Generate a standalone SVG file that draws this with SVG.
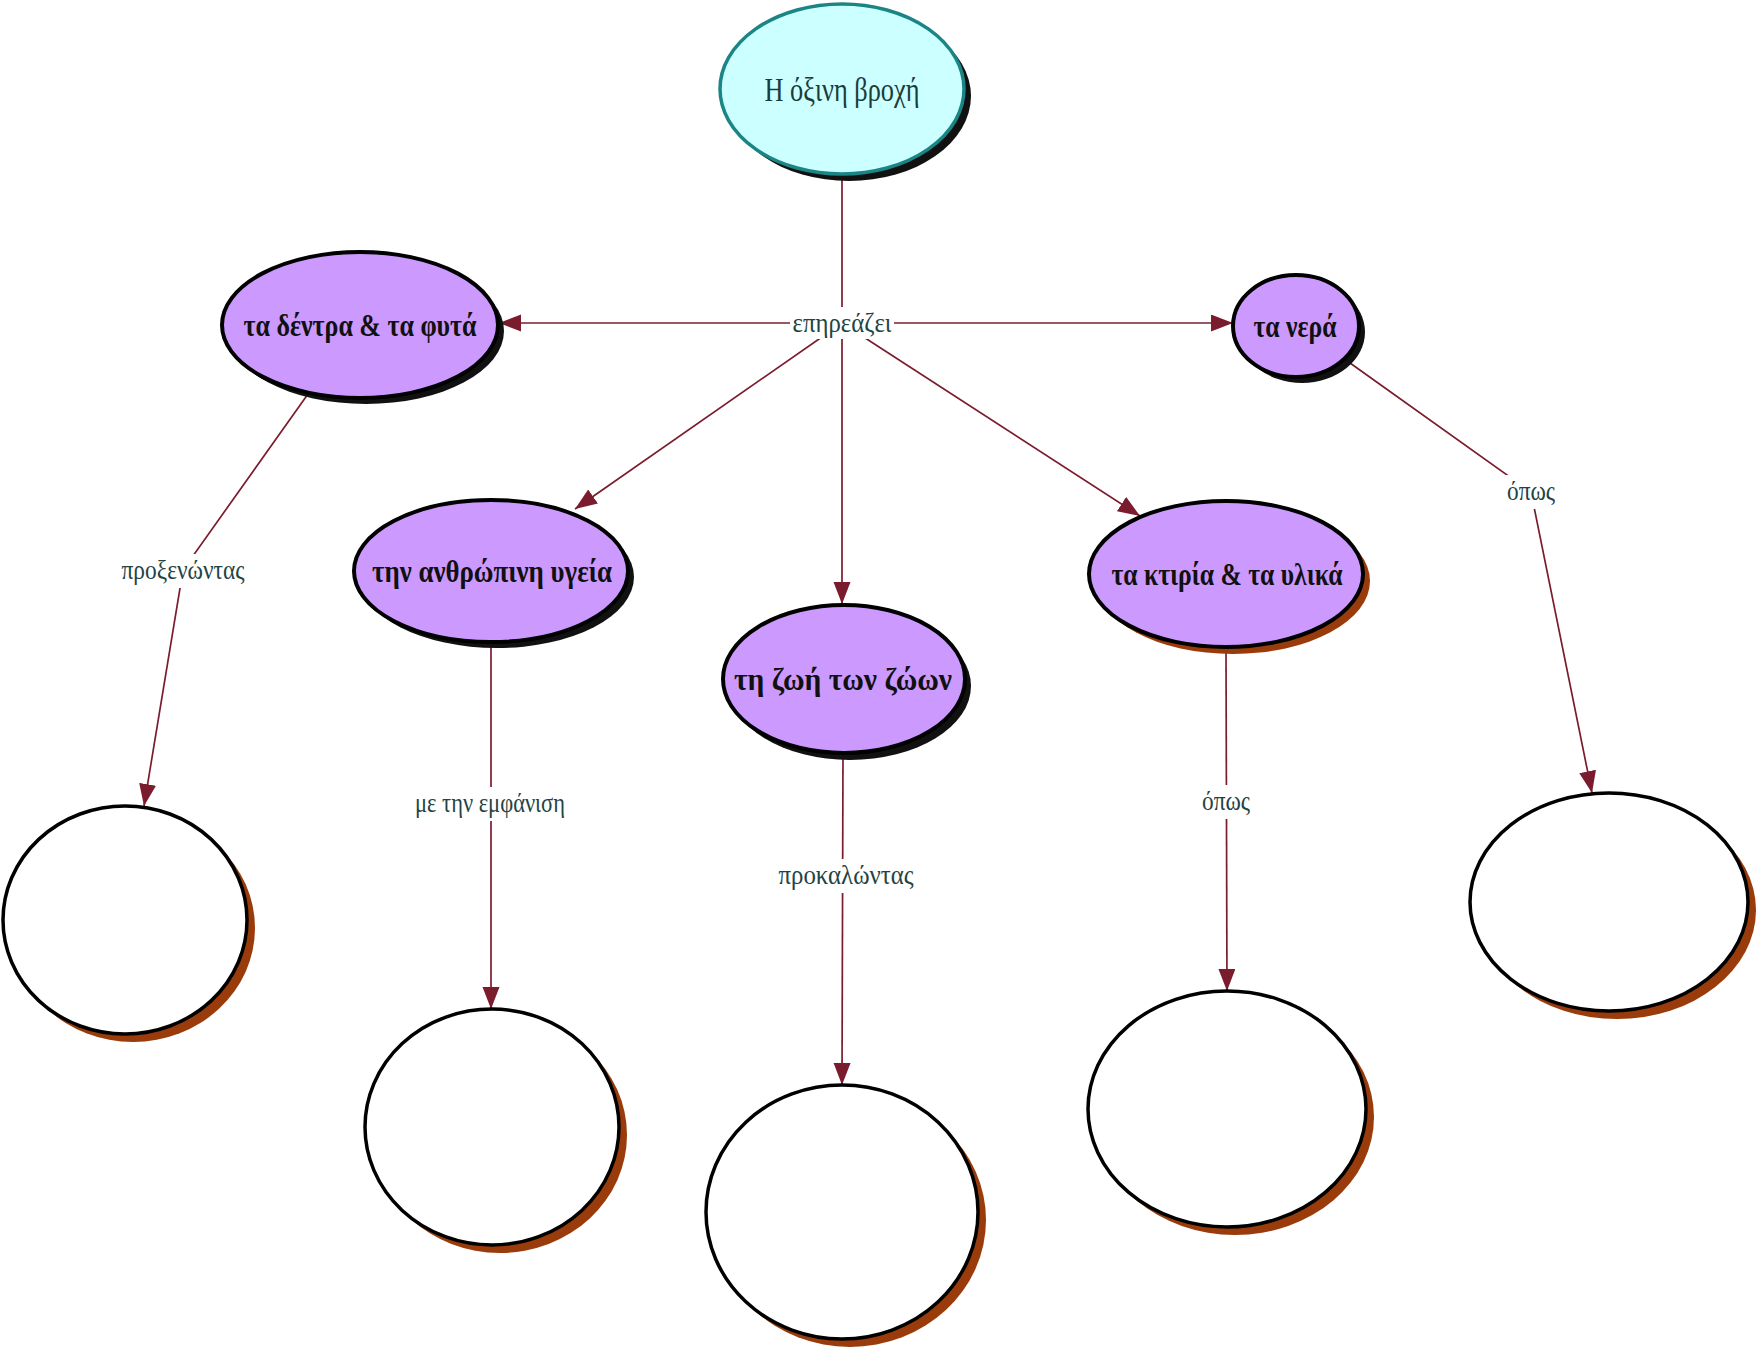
<svg xmlns="http://www.w3.org/2000/svg" width="1762" height="1356" viewBox="0 0 1762 1356">
<defs>
<style>
.conn{fill:none;stroke:#7b1c2e;stroke-width:1.7}
.lbl{font-family:"Liberation Serif",serif;font-size:28px;fill:#1f4444;text-anchor:middle}
.lblbg{fill:#ffffff}
.node{fill:#cc99ff;stroke:#000000;stroke-width:4}
.ntext{font-family:"Liberation Serif",serif;font-size:31px;font-weight:bold;fill:#111111;text-anchor:middle}
.blank{fill:#ffffff;stroke:#000000;stroke-width:3.5}
.shk{fill:#111111}
.shb{fill:#9a3b0c}
</style>
<marker id="arr" markerUnits="userSpaceOnUse" markerWidth="24" markerHeight="18" refX="22" refY="8.5" orient="auto">
<path d="M0,0 L22,8.5 L0,17 z" fill="#7b1c2e"/>
</marker>
</defs>
<rect x="0" y="0" width="1762" height="1356" fill="#ffffff"/>

<g id="connectors">
<path class="conn" d="M842,176 L842,323"/>
<path class="conn" d="M842,323 L499,323" marker-end="url(#arr)"/>
<path class="conn" d="M842,323 L1233,323" marker-end="url(#arr)"/>
<path class="conn" d="M842,323 L575,509" marker-end="url(#arr)"/>
<path class="conn" d="M842,323 L842,604" marker-end="url(#arr)"/>
<path class="conn" d="M842,323 L1140,516" marker-end="url(#arr)"/>
<path class="conn" d="M308,394 L183,570 L144,806" marker-end="url(#arr)"/>
<path class="conn" d="M491,642 L491,1009" marker-end="url(#arr)"/>
<path class="conn" d="M843,753 L842,1085" marker-end="url(#arr)"/>
<path class="conn" d="M1226,648 L1227,991" marker-end="url(#arr)"/>
<path class="conn" d="M1350,363 L1531,492 L1592,793" marker-end="url(#arr)"/>
</g>

<g id="labels">
<g id="lbl-epireazei"><rect class="lblbg" x="790" y="307" width="104" height="32"/><text class="lbl" x="842" y="332" textLength="99" lengthAdjust="spacingAndGlyphs">επηρεάζει</text></g>
<g id="lbl-proxenontas"><rect class="lblbg" x="119" y="554" width="128" height="34"/><text class="lbl" x="183" y="579" textLength="123" lengthAdjust="spacingAndGlyphs">προξενώντας</text></g>
<g id="lbl-emfanisi"><rect class="lblbg" x="412" y="787" width="156" height="34"/><text class="lbl" x="490" y="812" textLength="150" lengthAdjust="spacingAndGlyphs">με την εμφάνιση</text></g>
<g id="lbl-prokalontas"><rect class="lblbg" x="776" y="859" width="142" height="34"/><text class="lbl" x="846" y="884" textLength="135" lengthAdjust="spacingAndGlyphs">προκαλώντας</text></g>
<g id="lbl-opos1"><rect class="lblbg" x="1199" y="785" width="54" height="34"/><text class="lbl" x="1226" y="810" textLength="48" lengthAdjust="spacingAndGlyphs">όπως</text></g>
<g id="lbl-opos2"><rect class="lblbg" x="1504" y="475" width="54" height="34"/><text class="lbl" x="1531" y="500" textLength="48" lengthAdjust="spacingAndGlyphs">όπως</text></g>
</g>

<g id="node-root">
<ellipse class="shk" cx="849" cy="96" rx="122" ry="85"/>
<ellipse cx="842" cy="89" rx="122" ry="85" fill="#ccffff" stroke="#1b8585" stroke-width="3.5"/>
<text x="842" y="101" font-family="Liberation Serif, serif" font-size="34" fill="#1a3c3c" text-anchor="middle" textLength="155" lengthAdjust="spacingAndGlyphs">Η όξινη βροχή</text>
</g>

<g id="node-dentra">
<ellipse class="shk" cx="366" cy="331" rx="138" ry="73"/>
<ellipse class="node" cx="360" cy="325" rx="138" ry="73"/>
<text class="ntext" x="360" y="336" textLength="233" lengthAdjust="spacingAndGlyphs">τα δέντρα &amp; τα φυτά</text>
</g>

<g id="node-nera">
<ellipse class="shk" cx="1302" cy="332" rx="63" ry="51"/>
<ellipse class="node" cx="1296" cy="326" rx="63" ry="51"/>
<text class="ntext" x="1295" y="337" textLength="83" lengthAdjust="spacingAndGlyphs">τα νερά</text>
</g>

<g id="node-ygeia">
<ellipse class="shk" cx="497" cy="577" rx="137" ry="71"/>
<ellipse class="node" cx="491" cy="571" rx="137" ry="71"/>
<text class="ntext" x="492" y="582" textLength="240" lengthAdjust="spacingAndGlyphs">την ανθρώπινη υγεία</text>
</g>

<g id="node-zoi">
<ellipse class="shk" cx="850" cy="686" rx="121" ry="74"/>
<ellipse class="node" cx="844" cy="679" rx="121" ry="74"/>
<text class="ntext" x="843" y="690" textLength="218" lengthAdjust="spacingAndGlyphs">τη ζωή των ζώων</text>
</g>

<g id="node-ktiria">
<ellipse class="shb" cx="1233" cy="581" rx="137" ry="73"/>
<ellipse class="node" cx="1226" cy="574" rx="137" ry="73"/>
<text class="ntext" x="1227" y="585" textLength="231" lengthAdjust="spacingAndGlyphs">τα κτιρία &amp; τα υλικά</text>
</g>

<g id="blank-1">
<ellipse class="shb" cx="133" cy="928" rx="122" ry="114"/>
<ellipse class="blank" cx="125" cy="920" rx="122" ry="114"/>
</g>
<g id="blank-2">
<ellipse class="shb" cx="500" cy="1135" rx="127" ry="118"/>
<ellipse class="blank" cx="492" cy="1127" rx="127" ry="118"/>
</g>
<g id="blank-3">
<ellipse class="shb" cx="850" cy="1220" rx="136" ry="127"/>
<ellipse class="blank" cx="842" cy="1212" rx="136" ry="127"/>
</g>
<g id="blank-4">
<ellipse class="shb" cx="1235" cy="1117" rx="139" ry="118"/>
<ellipse class="blank" cx="1227" cy="1109" rx="139" ry="118"/>
</g>
<g id="blank-5">
<ellipse class="shb" cx="1617" cy="910" rx="139" ry="109"/>
<ellipse class="blank" cx="1609" cy="902" rx="139" ry="109"/>
</g>
</svg>
